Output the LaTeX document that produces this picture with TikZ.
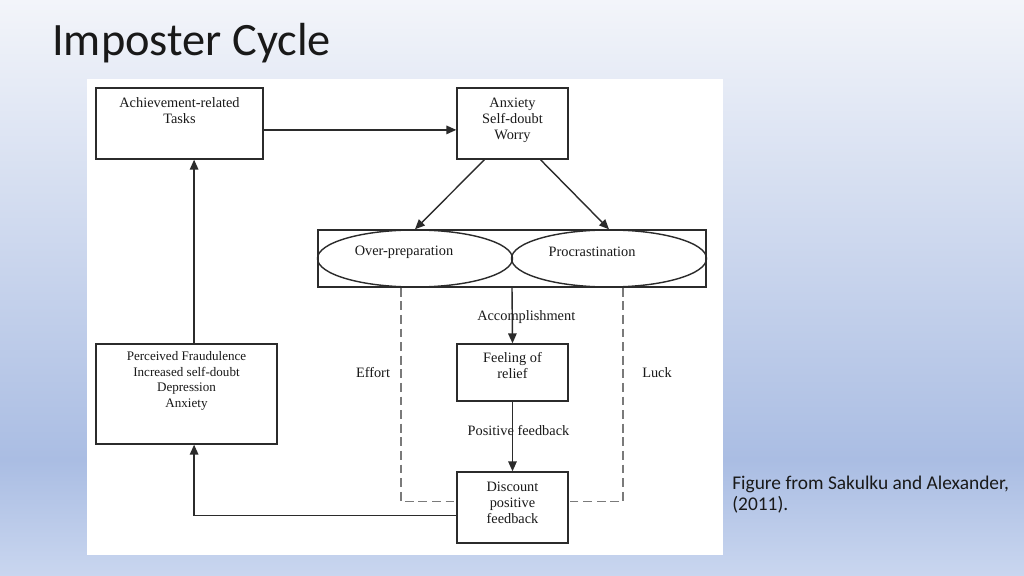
\documentclass[tikz,border=0pt]{standalone}
\usepackage{fontspec}
\setmainfont{Liberation Serif}
\newfontfamily\slidefont{Carlito}
\usetikzlibrary{shapes.geometric}
\usetikzlibrary{arrows.meta}
\definecolor{slidetop}{HTML}{F3F5FA}
\definecolor{slidemid}{HTML}{AABDE3}
\definecolor{slidebot}{HTML}{C9D6EF}
\definecolor{inkgray}{HTML}{2B2B2B}
\definecolor{dashgray}{HTML}{7A7A7A}

\begin{document}
\begin{tikzpicture}[x=0.025cm,y=-0.025cm,
  every node/.style={inner sep=0pt},
  box/.style={rectangle,draw=inkgray,line width=1pt},
  oval/.style={ellipse,draw=inkgray,line width=1pt,
               minimum width=4.875cm,minimum height=1.425cm},
  txt/.style={align=center,text=black!90,font=\fontsize{10.2}{11.4}\selectfont},
  small txt/.style={txt,font=\fontsize{9.3}{11}\selectfont},
  arr/.style={draw=inkgray,line width=1pt,-{Triangle[length=7pt,width=6pt]}},
  dashline/.style={draw=dashgray,line width=1pt,dash pattern=on 0.22cm off 0.12cm}]

 \useasboundingbox (0,0) rectangle (1024,576);
 \shade[top color=slidetop,bottom color=slidemid] (0,0) rectangle (1024,460);
 \shade[top color=slidemid,bottom color=slidebot] (0,460) rectangle (1024,576);
 \fill[white] (87,79) rectangle (723,555);

 \draw (52,56) node[anchor=base west,text=black!90,
                    font=\slidefont\fontsize{33}{38}\selectfont] (title)
              {Imposter Cycle};

 % boxes
 \draw (179.5,123.5) node[box,minimum width=4.175cm,minimum height=1.775cm] (A) {};
 \draw (512.5,123.5) node[box,minimum width=2.775cm,minimum height=1.775cm] (B) {};
 \draw (512,258.5)   node[box,minimum width=9.7cm,minimum height=1.425cm] (C) {};
 \draw (415,258.5)   node[oval] (E1) {};
 \draw (609,258.5)   node[oval] (E2) {};
 \draw (512.5,372.5) node[box,minimum width=2.775cm,minimum height=1.425cm] (F) {};
 \draw (512.5,507.5) node[box,minimum width=2.775cm,minimum height=1.775cm] (D) {};
 \draw (186.5,394)   node[box,minimum width=4.525cm,minimum height=2.5cm] (P) {};

 % texts
 \draw ([yshift=-0.25cm]A.north) node[anchor=north,txt] (At)
              {Achievement-related\\Tasks};
 \draw ([yshift=-0.25cm]B.north) node[anchor=north,txt] (Bt)
              {Anxiety\\Self-doubt\\Worry};
 \draw (404,252) node[txt] (E1t) {Over-preparation};
 \draw (592,252) node[txt] (E2t) {Procrastination};
 \draw ([yshift=-0.225cm]F.north) node[anchor=north,txt] (Ft)
              {Feeling of\\relief};
 \draw ([yshift=-0.25cm]D.north) node[anchor=north,txt] (Dt)
              {Discount\\positive\\feedback};
 \draw ([yshift=-0.2cm]P.north) node[anchor=north,small txt] (Pt)
              {Perceived Fraudulence\\Increased self-doubt\\Depression\\Anxiety};

 % connectors
 \draw[arr] ([yshift=-0.16cm]A.east) -- ([yshift=-0.16cm]B.west);
 \draw[arr] ([xshift=-0.7cm]B.south) -- (E1.north);
 \draw[arr] ([xshift=0.7cm]B.south) -- (E2.north);
 \draw[arr] (C.south) -- (F.north)
    node[midway,txt,xshift=0.35cm,yshift=-0.05cm] (acc) {Accomplishment};
 \draw[arr] (F.south) -- (D.north)
    node[midway,txt,xshift=0.15cm,yshift=0.15cm] (pos) {Positive feedback};
 \draw[dashline] ([xshift=-2.775cm]C.south) |- ([yshift=0.15cm]D.west);
 \draw[dashline] ([xshift=2.775cm]C.south) |- ([yshift=0.15cm]D.east);
 \draw[arr] ([yshift=-0.2cm]D.west) -| ([xshift=0.19cm]P.south);
 \draw[arr] ([xshift=0.19cm]P.north) -- ([xshift=0.19cm]P.north |- A.south);

 \draw (373,373) node[txt] (eff) {Effort};
 \draw (657,373) node[txt] (luck) {Luck};

 \draw (732,476) node[anchor=north west,align=left,text=black!90,
                      font=\slidefont\fontsize{13.8}{14.4}\selectfont] (cap)
              {Figure from Sakulku and Alexander,\\(2011).};

\end{tikzpicture}
\end{document}
